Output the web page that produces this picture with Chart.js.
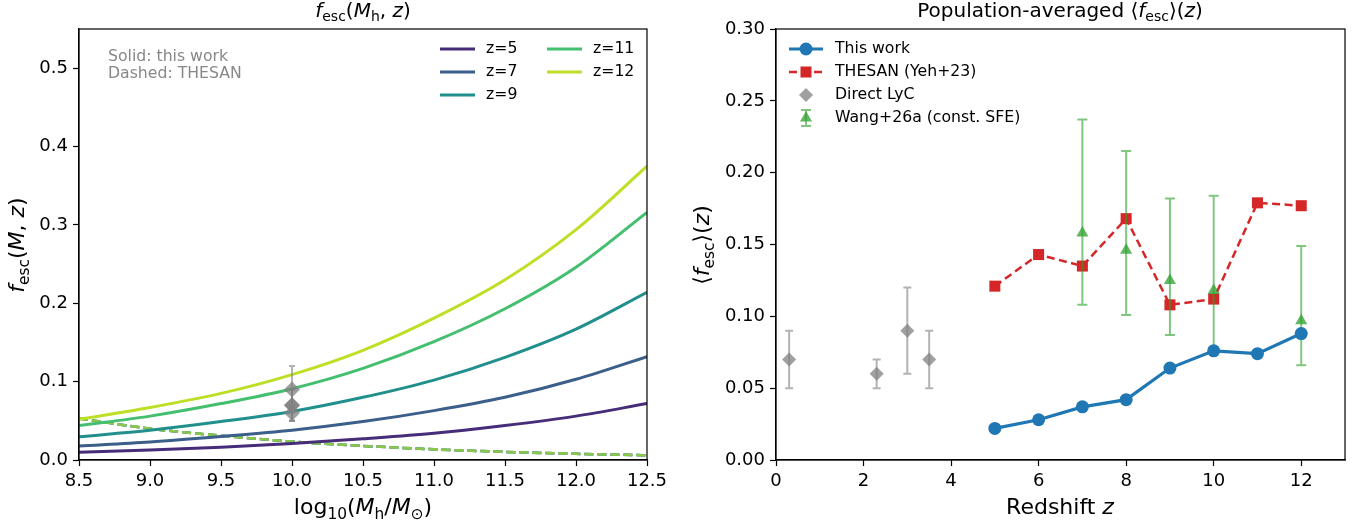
<!DOCTYPE html>
<html lang="en">
<head>
<meta charset="UTF-8">
<title>Escape fraction</title>
<script src="https://cdn.jsdelivr.net/npm/chart.js@4"></script>
<style>
  body { margin: 0; background: #fff; }
  #wrap { position: relative; width: 1369px; height: 526px; }
  .panel { position: absolute; top: 0; height: 526px; }
  #left { left: 0; width: 684px; }
  #right { left: 684px; width: 685px; }
</style>
</head>
<body>
<div id="wrap">
  <div class="panel" id="left"><canvas id="massChart"></canvas></div>
  <div class="panel" id="right"><canvas id="zChart"></canvas></div>
</div>
<script>
// ---- left panel data: f_esc vs log10(Mh) ----
const massGrid = [8.5, 9.0, 9.5, 10.0, 10.5, 11.0, 11.5, 12.0, 12.5];
const zLabels = ['z=5', 'z=7', 'z=9', 'z=11', 'z=12'];
const fescZ5  = [0.010, 0.0128, 0.0164, 0.021, 0.027, 0.034, 0.044, 0.056, 0.072];
const fescZ7  = [0.018, 0.023, 0.030, 0.038, 0.049, 0.063, 0.080, 0.103, 0.132];
const fescZ9  = [0.0297, 0.038, 0.049, 0.062, 0.080, 0.102, 0.131, 0.167, 0.214];
const fescZ11 = [0.044, 0.056, 0.072, 0.091, 0.117, 0.151, 0.193, 0.246, 0.316];
const fescZ12 = [0.052, 0.067, 0.085, 0.109, 0.140, 0.181, 0.230, 0.294, 0.375];
const thesanFesc = [0.053, 0.040, 0.031, 0.0235, 0.018, 0.0136, 0.0104, 0.0079, 0.006];
const massTicks = [8.5, 9.0, 9.5, 10.0, 10.5, 11.0, 11.5, 12.0, 12.5];
const massTickLabels = ['8.5', '9.0', '9.5', '10.0', '10.5', '11.0', '11.5', '12.0', '12.5'];
const fescTicks = [0, 0.1, 0.2, 0.3, 0.4, 0.5];
const fescTickLabels = ['0.0', '0.1', '0.2', '0.3', '0.4', '0.5'];

// ---- right panel data: population average vs z ----
const zGrid = [5, 6, 7, 8, 9, 10, 11, 12];
const thisWork = [0.022, 0.028, 0.037, 0.042, 0.064, 0.076, 0.074, 0.088];
const thesanAvg = [0.121, 0.143, 0.135, 0.168, 0.108, 0.112, 0.179, 0.177];
const lycZ = [0.3, 2.3, 3.0, 3.5];
const lycMass = 10.0;
const lycFesc = [0.07, 0.06, 0.09, 0.07];
const lycLo = [0.05, 0.05, 0.06, 0.05];
const lycHi = [0.09, 0.07, 0.12, 0.09];
const wangZ = [7, 8, 9, 10, 12];
const wangFesc = [0.158, 0.146, 0.125, 0.118, 0.097];
const wangLo = [0.108, 0.101, 0.087, 0.075, 0.066];
const wangHi = [0.237, 0.215, 0.182, 0.184, 0.149];
const zTicks = [0, 2, 4, 6, 8, 10, 12];
const zTickLabels = ['0', '2', '4', '6', '8', '10', '12'];
const avgTicks = [0, 0.05, 0.10, 0.15, 0.20, 0.25, 0.30];
const avgTickLabels = ['0.00', '0.05', '0.10', '0.15', '0.20', '0.25', '0.30'];

const FONT = '"DejaVu Sans", sans-serif';
const TICK_SIZE = 18, LABEL_SIZE = 22, TITLE_SIZE = 20, LEGEND_SIZE = 15.7;
const zColors = ['#472c7a', '#3b5f8a', '#21908d', '#44bf70', '#bddf26'];
const zColorsFaint = ['rgba(71,44,122,0.6)', 'rgba(59,95,138,0.6)', 'rgba(33,144,141,0.6)',
                      'rgba(68,191,112,0.6)', 'rgba(189,223,38,0.6)'];

function pts(xs, ys) { return ys.map((y, i) => ({ x: Array.isArray(xs) ? xs[i] : xs, y })); }

function axis(min, max, ticks, labels, size, isY) {
  return {
    type: 'linear', min, max,
    afterBuildTicks: s => { s.ticks = ticks.map(v => ({ value: v })); },
    afterFit: s => { if (isY) s.width = size; else s.height = size; },
    ticks: { color: '#000', font: { family: FONT, size: TICK_SIZE }, padding: 5, maxRotation: 0,
             autoSkip: false, callback: (v, i) => labels[i] },
    grid: { display: true, drawOnChartArea: false, drawTicks: true, tickLength: 6,
            color: '#000', tickWidth: 1.2 },
    border: { display: true, color: '#000', width: 1.2 }
  };
}

// rich text with italic parts and subscripts
function fontOf(p, size) {
  return (p.it ? 'italic ' : '') + (p.sub ? size * 0.7 : size) + 'px ' + FONT;
}
function drawRich(ctx, parts, cx, base, size, rot) {
  ctx.save();
  ctx.translate(cx, base);
  if (rot) ctx.rotate(rot);
  let w = 0;
  parts.forEach(p => { ctx.font = fontOf(p, size); w += ctx.measureText(p.t).width; });
  let x = -w / 2;
  ctx.fillStyle = '#000';
  ctx.textBaseline = 'alphabetic';
  ctx.textAlign = 'left';
  parts.forEach(p => {
    ctx.font = fontOf(p, size);
    ctx.fillText(p.t, x, p.sub ? size * 0.22 : 0);
    x += ctx.measureText(p.t).width;
  });
  ctx.restore();
}

function marker(ctx, style, x, y, r, fill) {
  ctx.fillStyle = fill;
  ctx.beginPath();
  if (style === 'circle') ctx.arc(x, y, r, 0, Math.PI * 2);
  else if (style === 'rect') { const s = r * Math.SQRT1_2; ctx.rect(x - s, y - s, 2 * s, 2 * s); }
  else if (style === 'rectRot') { ctx.moveTo(x, y - r); ctx.lineTo(x + r, y); ctx.lineTo(x, y + r); ctx.lineTo(x - r, y); }
  else if (style === 'triangle') { ctx.moveTo(x, y - r); ctx.lineTo(x + r * 0.866, y + r * 0.5); ctx.lineTo(x - r * 0.866, y + r * 0.5); }
  ctx.closePath();
  ctx.fill();
}

// error bars drawn just before their dataset
const errorBars = {
  id: 'errorBars',
  beforeDatasetDraw(chart, args) {
    const ds = chart.data.datasets[args.index];
    if (!ds.errLo) return;
    const ctx = chart.ctx, xs = chart.scales.x, ys = chart.scales.y;
    ctx.save();
    ctx.strokeStyle = ds.errColor;
    ctx.lineWidth = ds.errWidth || 2;
    ds.data.forEach((p, j) => {
      const x = xs.getPixelForValue(p.x);
      const y1 = ys.getPixelForValue(ds.errLo[j]), y2 = ys.getPixelForValue(ds.errHi[j]);
      const c = ds.capHalf;
      ctx.beginPath();
      ctx.moveTo(x, y1); ctx.lineTo(x, y2);
      ctx.moveTo(x - c, y1); ctx.lineTo(x + c, y1);
      ctx.moveTo(x - c, y2); ctx.lineTo(x + c, y2);
      ctx.stroke();
    });
    ctx.restore();
  }
};

const frame = {
  id: 'frame',
  afterDraw(chart) {
    const a = chart.chartArea, ctx = chart.ctx;
    ctx.save();
    ctx.strokeStyle = '#000';
    ctx.lineWidth = 1.2;
    ctx.strokeRect(a.left, a.top, a.right - a.left, a.bottom - a.top);
    ctx.restore();
  }
};

// ---------- left chart ----------
const solidSeries = [fescZ5, fescZ7, fescZ9, fescZ11, fescZ12];
const leftSets = [];
solidSeries.forEach((vals, i) => {
  leftSets.push({ label: zLabels[i], data: pts(massGrid, vals), borderColor: zColors[i],
    borderWidth: 3, pointRadius: 0, cubicInterpolationMode: 'monotone', order: 1 });
});
// dashed THESAN curves: later redshifts end up on top
solidSeries.forEach((vals, i) => {
  leftSets.push({ label: 'THESAN ' + zLabels[i], data: pts(massGrid, thesanFesc),
    borderColor: zColorsFaint[i], borderWidth: 2.5, borderDash: [9, 4], pointRadius: 0,
    cubicInterpolationMode: 'monotone', order: 2.5 - i * 0.1 });
});
leftSets.push({ label: 'Direct LyC', data: pts(lycMass, lycFesc), showLine: false,
  pointStyle: 'rectRot', pointRadius: 8, pointBackgroundColor: 'rgba(128,128,128,0.75)',
  pointBorderWidth: 0, errLo: lycLo, errHi: lycHi, errColor: 'rgba(128,128,128,0.6)',
  errWidth: 2, capHalf: 3, order: 0 });

const leftDecor = {
  id: 'leftDecor',
  afterDraw(chart) {
    const ctx = chart.ctx;
    ctx.save();
    ctx.font = LEGEND_SIZE + 'px ' + FONT;
    ctx.textBaseline = 'middle';
    ctx.fillStyle = '#888';
    ctx.fillText('Solid: this work', 108, 57);
    ctx.fillText('Dashed: THESAN', 108, 74);
    const pos = [[440, 49], [440, 72], [440, 95], [547, 49], [547, 72]];
    for (let i = 0; i < 5; i++) {
      const ds = chart.data.datasets[i];
      const [x, y] = pos[i];
      ctx.strokeStyle = ds.borderColor;
      ctx.lineWidth = 3;
      ctx.beginPath(); ctx.moveTo(x, y); ctx.lineTo(x + 35, y); ctx.stroke();
      ctx.fillStyle = '#000';
      ctx.fillText(ds.label, x + 46, y);
    }
    drawRich(ctx, [{ t: 'f', it: 1 }, { t: 'esc', sub: 1 }, { t: '(' }, { t: 'M', it: 1 }, { t: 'h', sub: 1 },
      { t: ', ' }, { t: 'z', it: 1 }, { t: ')' }], 363, 17, TITLE_SIZE);
    drawRich(ctx, [{ t: 'log' }, { t: '10', sub: 1 }, { t: '(' }, { t: 'M', it: 1 }, { t: 'h', sub: 1 },
      { t: '/' }, { t: 'M', it: 1 }, { t: '\u2299', sub: 1 }, { t: ')' }], 363, 514, LABEL_SIZE);
    drawRich(ctx, [{ t: 'f', it: 1 }, { t: 'esc', sub: 1 }, { t: '(' }, { t: 'M', it: 1 },
      { t: ', ' }, { t: 'z', it: 1 }, { t: ')' }], 24, 245, LABEL_SIZE, -Math.PI / 2);
    ctx.restore();
  }
};

new Chart(document.getElementById('massChart'), {
  type: 'line',
  data: { datasets: leftSets },
  options: {
    responsive: true, maintainAspectRatio: false, animation: false,
    layout: { padding: { top: 29, right: 37, left: 0, bottom: 0 } },
    plugins: { legend: { display: false }, tooltip: { enabled: false } },
    scales: {
      x: axis(8.5, 12.5, massTicks, massTickLabels, 66, false),
      y: axis(0, 0.55, fescTicks, fescTickLabels, 79, true)
    }
  },
  plugins: [errorBars, frame, leftDecor]
});

// ---------- right chart ----------
const rightSets = [
  { label: 'This work', data: pts(zGrid, thisWork), borderColor: '#1f77b4', borderWidth: 3.2,
    pointStyle: 'circle', pointRadius: 6.5, pointBackgroundColor: '#1f77b4', pointBorderWidth: 0, order: 0 },
  { label: 'THESAN (Yeh+23)', data: pts(zGrid, thesanAvg), borderColor: '#d62728', borderWidth: 2.5,
    borderDash: [8, 4.5], pointStyle: 'rect', pointRadius: 7.8, pointBackgroundColor: '#d62728',
    pointBorderWidth: 0, order: 2 },
  { label: 'Direct LyC', data: pts(lycZ, lycFesc), showLine: false, pointStyle: 'rectRot',
    pointRadius: 7, pointBackgroundColor: 'rgba(128,128,128,0.75)', pointBorderWidth: 0,
    errLo: lycLo, errHi: lycHi, errColor: 'rgba(128,128,128,0.6)', errWidth: 2, capHalf: 4, order: 3 },
  { label: 'Wang+26a (const. SFE)', data: pts(wangZ, wangFesc), showLine: false, pointStyle: 'triangle',
    pointRadius: 7, pointBackgroundColor: 'rgba(44,160,44,0.75)', pointBorderWidth: 0,
    errLo: wangLo, errHi: wangHi, errColor: 'rgba(44,160,44,0.6)', errWidth: 2, capHalf: 5, order: 1 }
];

const rightDecor = {
  id: 'rightDecor',
  afterDraw(chart) {
    const ctx = chart.ctx;
    const ds = chart.data.datasets;
    const rows = [49, 72, 95, 118];
    const x0 = 105, xm = 122, xt = 151;
    ctx.save();
    ctx.textBaseline = 'middle';
    ctx.font = LEGEND_SIZE + 'px ' + FONT;
    // This work
    ctx.strokeStyle = ds[0].borderColor; ctx.lineWidth = 3.2;
    ctx.beginPath(); ctx.moveTo(x0, rows[0]); ctx.lineTo(x0 + 34, rows[0]); ctx.stroke();
    marker(ctx, 'circle', xm, rows[0], 6.5, ds[0].pointBackgroundColor);
    // THESAN
    ctx.strokeStyle = ds[1].borderColor; ctx.lineWidth = 2.5; ctx.setLineDash([8, 4.5]);
    ctx.beginPath(); ctx.moveTo(x0, rows[1]); ctx.lineTo(x0 + 34, rows[1]); ctx.stroke();
    ctx.setLineDash([]);
    marker(ctx, 'rect', xm, rows[1], 7.8, ds[1].pointBackgroundColor);
    // Direct LyC
    marker(ctx, 'rectRot', xm, rows[2], 7, ds[2].pointBackgroundColor);
    // Wang
    ctx.strokeStyle = ds[3].errColor; ctx.lineWidth = 2;
    ctx.beginPath();
    ctx.moveTo(xm, rows[3] - 8); ctx.lineTo(xm, rows[3] + 8);
    ctx.moveTo(xm - 5, rows[3] - 8); ctx.lineTo(xm + 5, rows[3] - 8);
    ctx.moveTo(xm - 5, rows[3] + 8); ctx.lineTo(xm + 5, rows[3] + 8);
    ctx.stroke();
    marker(ctx, 'triangle', xm, rows[3], 7, ds[3].pointBackgroundColor);
    ctx.fillStyle = '#000';
    ds.forEach((d, i) => ctx.fillText(d.label, xt, rows[i]));
    drawRich(ctx, [{ t: 'Population-averaged ' }, { t: '\u27e8' }, { t: 'f', it: 1 }, { t: 'esc', sub: 1 },
      { t: '\u27e9' }, { t: '(' }, { t: 'z', it: 1 }, { t: ')' }], 376, 17, TITLE_SIZE);
    drawRich(ctx, [{ t: 'Redshift ' }, { t: 'z', it: 1 }], 376, 514, LABEL_SIZE);
    drawRich(ctx, [{ t: '\u27e8' }, { t: 'f', it: 1 }, { t: 'esc', sub: 1 }, { t: '\u27e9' }, { t: '(' },
      { t: 'z', it: 1 }, { t: ')' }], 25, 245, LABEL_SIZE, -Math.PI / 2);
    ctx.restore();
  }
};

new Chart(document.getElementById('zChart'), {
  type: 'line',
  data: { datasets: rightSets },
  options: {
    responsive: true, maintainAspectRatio: false, animation: false,
    layout: { padding: { top: 29, right: 24, left: 0, bottom: 0 } },
    plugins: { legend: { display: false }, tooltip: { enabled: false } },
    scales: {
      x: axis(0, 13, zTicks, zTickLabels, 66, false),
      y: axis(0, 0.30, avgTicks, avgTickLabels, 92, true)
    }
  },
  plugins: [errorBars, frame, rightDecor]
});
</script>
</body>
</html>
